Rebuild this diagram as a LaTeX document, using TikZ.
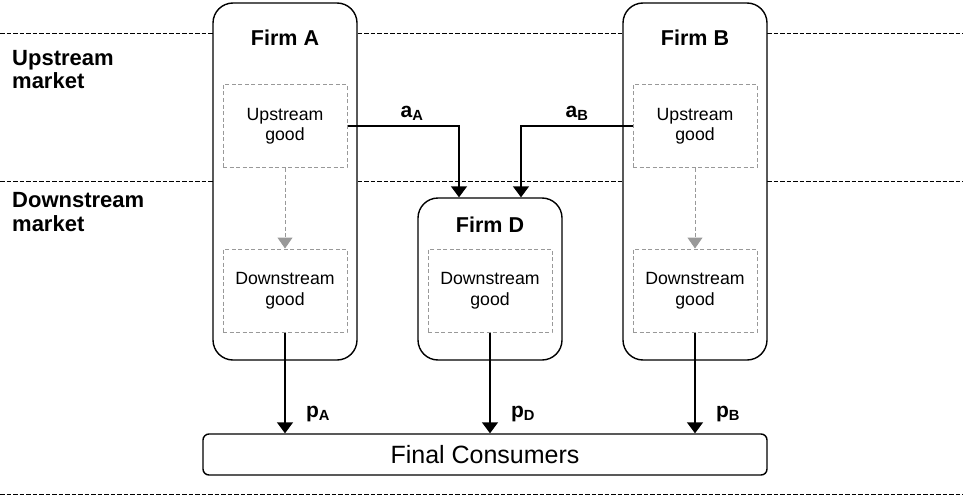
\documentclass[tikz,border=0pt]{standalone}
\usepackage{fontspec}
\setmainfont{Liberation Sans}
\usetikzlibrary{arrows.meta,calc}
\tikzset{
  firm/.style={draw=black, line width=1.4pt, rounded corners=20pt, fill=white, minimum width=144pt, inner sep=0pt},
  good/.style={draw=black!40, dash pattern=on 4pt off 2.5pt, line width=1pt, minimum width=124pt, minimum height=83pt, align=center, inner sep=0pt, font=\fontsize{17.7}{20.5}\selectfont},
  title/.style={font=\fontsize{21.5}{24}\selectfont\bfseries},
  market/.style={font=\fontsize{22}{23.5}\selectfont\bfseries, align=left, anchor=west, inner sep=0pt},
  sep/.style={line width=1pt, dash pattern=on 4.5pt off 2pt},
  arr/.style={line width=1.4pt, -{Triangle[width=16pt,length=11pt]}},
  garr/.style={draw=black!40, line width=1pt, dash pattern=on 4pt off 2.5pt, -{Triangle[width=15pt,length=11pt,fill=black!40]}},
  lab/.style={font=\fontsize{21}{24}\selectfont\bfseries},
}
\begin{document}
\begin{tikzpicture}[x=1pt,y=-1pt]
\useasboundingbox (0,0) rectangle (963,503);
% separators
\coordinate (l1w) at (0,34); \coordinate (l1e) at (963,34);
\coordinate (l2w) at (0,181); \coordinate (l2e) at (963,181);
\coordinate (l3w) at (0,494); \coordinate (l3e) at (963,494);
\draw[sep] (l1w) -- (l1e);
\draw[sep] (l2w) -- (l2e);
\draw[sep] (l3w) -- (l3e);
% market labels
\node[market] (um) at (12,69.5) {Upstream\\market};
\node[market] (dm) at (12,212) {Downstream\\market};
% firms
\node[firm, minimum height=357pt] (A) at (285,181.5) {};
\node[firm, minimum height=357pt] (B) at (695,181.5) {};
\node[firm, minimum height=162pt] (D) at (490,279) {};
\node[title] (tA) at (285,37.5) {Firm A};
\node[title] (tB) at (695,37.5) {Firm B};
\node[title] (tD) at (490,225) {Firm D};
% goods
\node[good] (upA) at (285,126) {Upstream\\good};
\node[good] (upB) at (695,126) {Upstream\\good};
\node[good] (dnA) at (285,290.5) {Downstream\\good};
\node[good] (dnB) at (695,290.5) {Downstream\\good};
\node[good] (dnD) at (490,290.5) {Downstream\\good};
% final consumers
\node[draw, line width=1.4pt, rounded corners=6pt, minimum width=564pt, minimum height=41pt, inner sep=0pt, font=\fontsize{25}{28}\selectfont] (FC) at (485,454.5) {Final Consumers};
% internal arrows
\draw[garr] (upA) -- (dnA);
\draw[garr] (upB) -- (dnB);
% input arrows
\draw[arr] (upA.east) -| ([xshift=-31pt]D.north);
\draw[arr] (upB.west) -| ([xshift=31pt]D.north);
\node[lab] (aA) at (412,113) {a\textsubscript{A}};
\node[lab] (aB) at (577,113) {a\textsubscript{B}};
% price arrows
\draw[arr] (dnA.south) -- (dnA.south |- FC.north);
\draw[arr] (dnD.south) -- (dnD.south |- FC.north);
\draw[arr] (dnB.south) -- (dnB.south |- FC.north);
\node[lab] (pA) at (318,414) {p\textsubscript{A}};
\node[lab] (pD) at (523,414) {p\textsubscript{D}};
\node[lab] (pB) at (728,414) {p\textsubscript{B}};
\end{tikzpicture}
\end{document}
